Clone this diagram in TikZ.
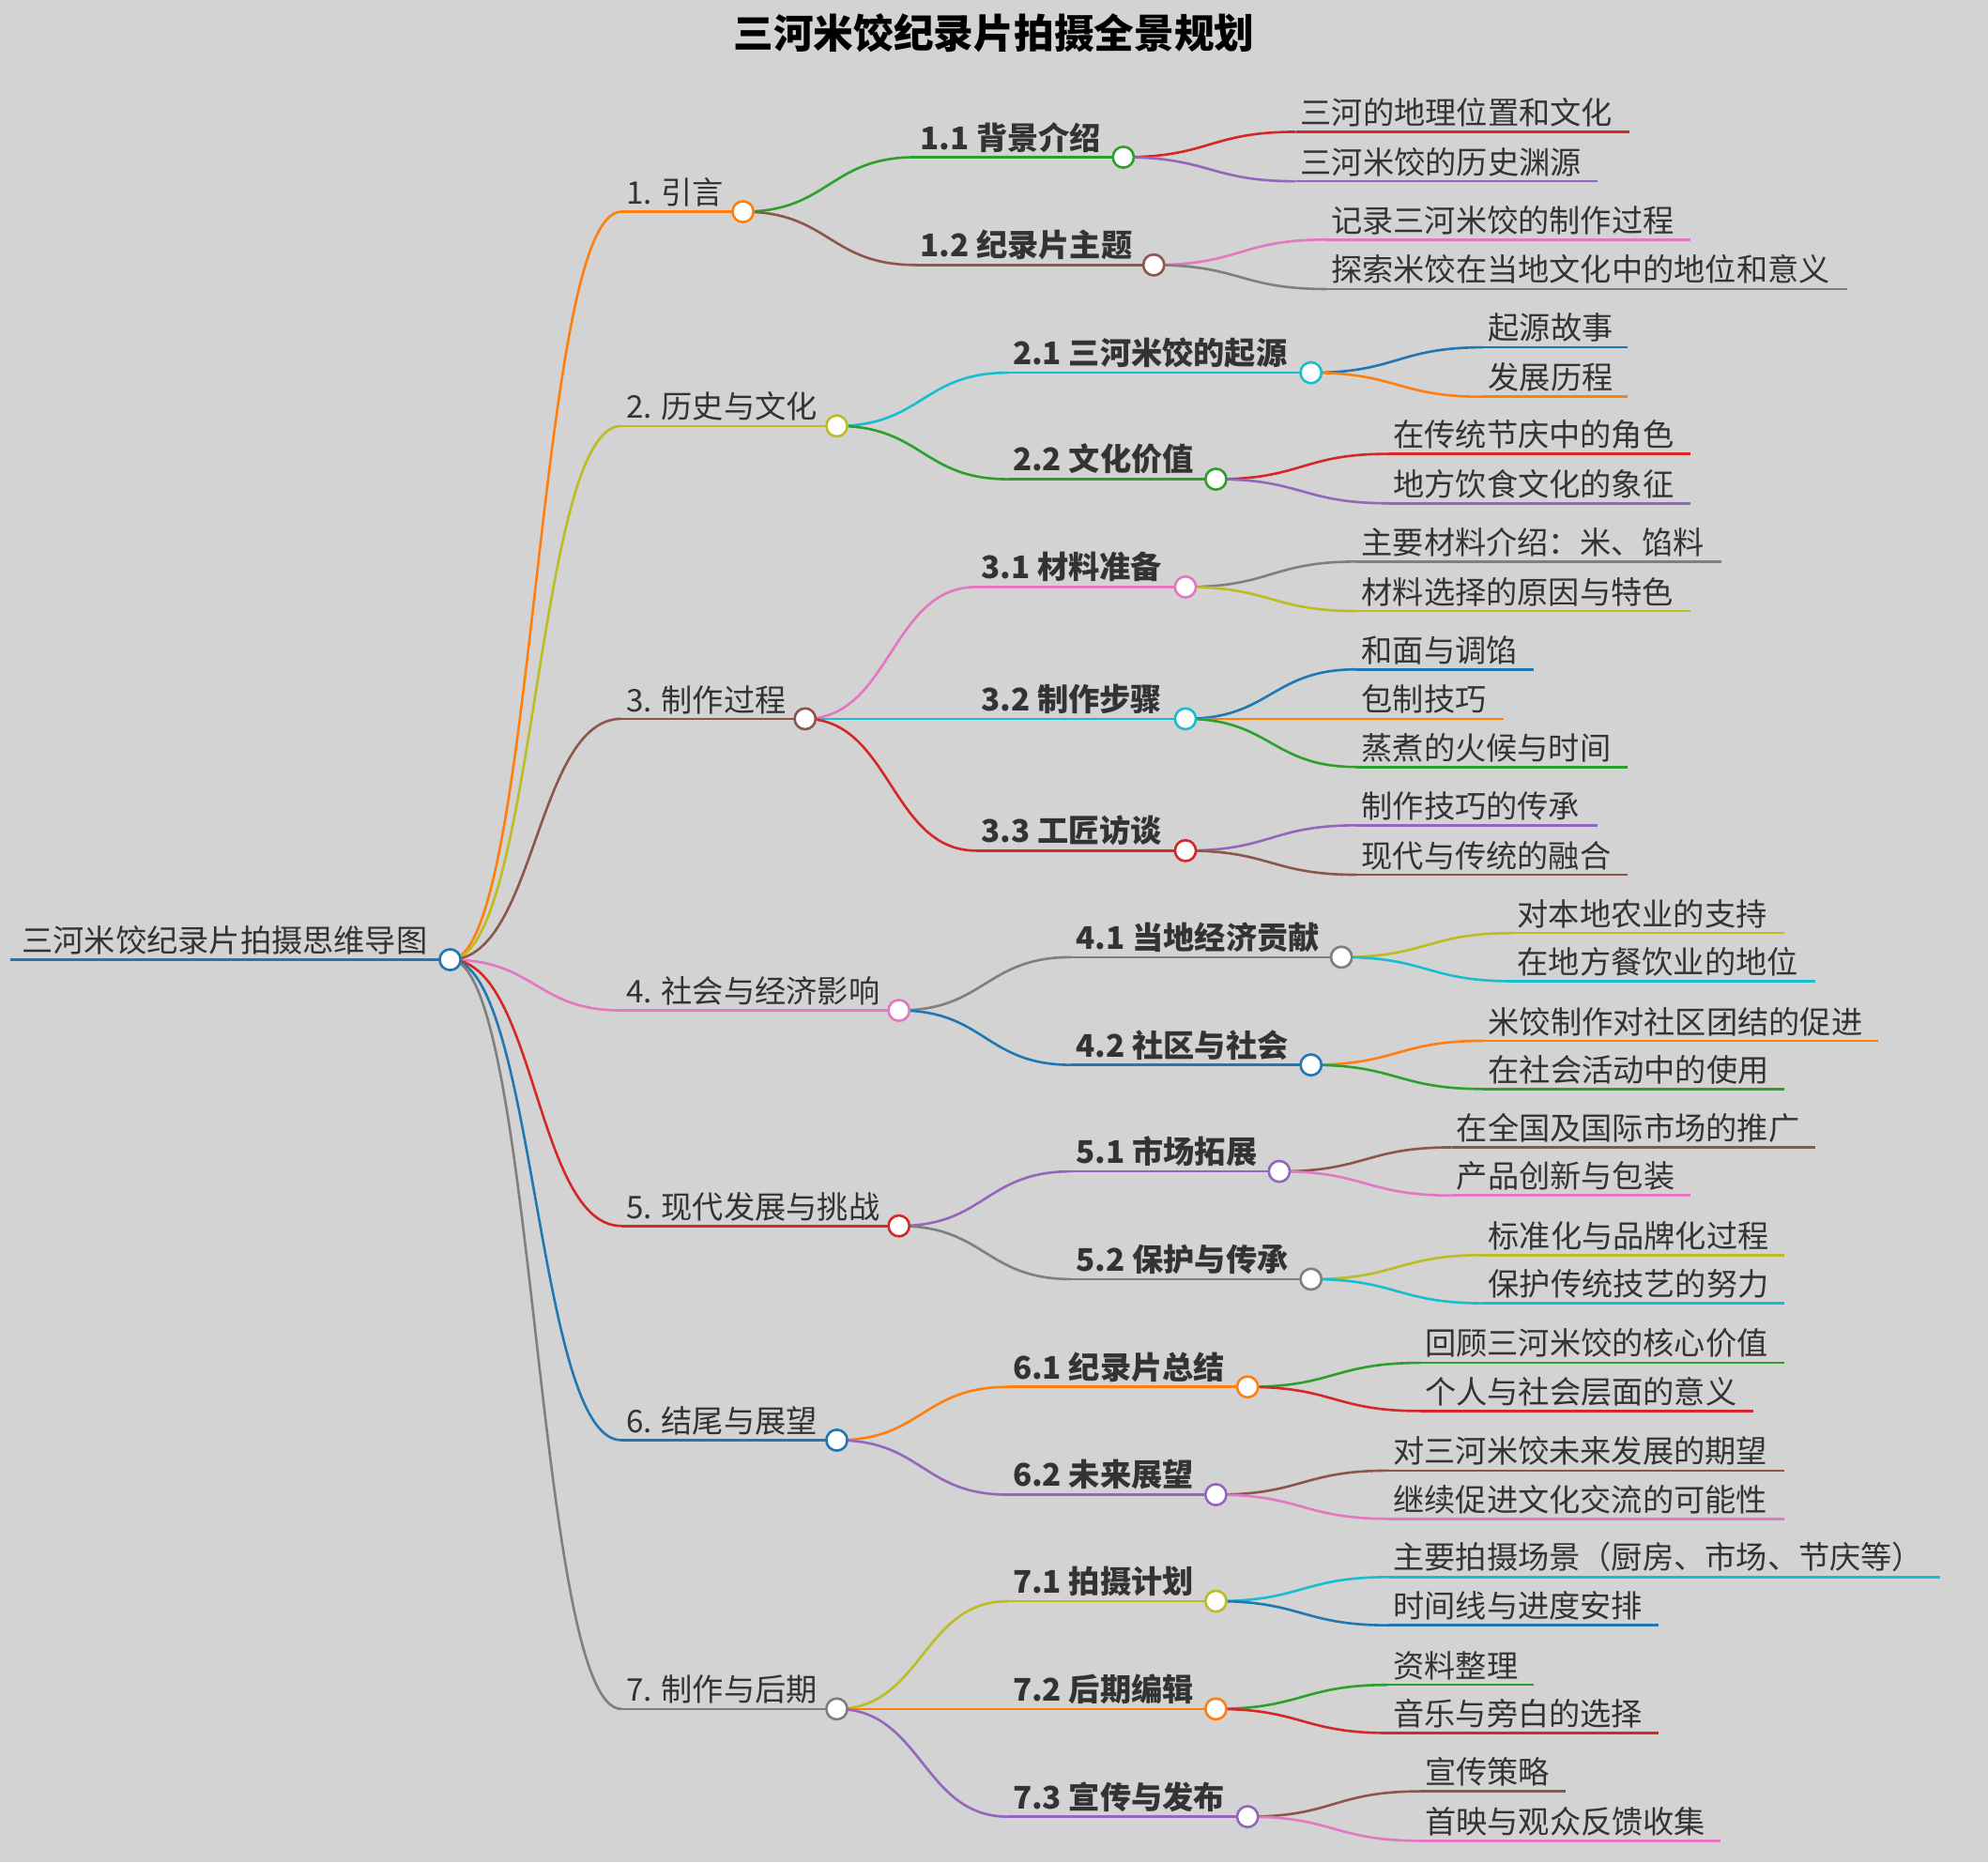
\documentclass[tikz,border=0pt]{standalone}
\usepackage{fontspec}
\setmainfont{Noto Sans CJK SC}
\usetikzlibrary{calc}
\definecolor{tblue}{HTML}{1F77B4}
\definecolor{torange}{HTML}{FF7F0E}
\definecolor{tgreen}{HTML}{2CA02C}
\definecolor{tred}{HTML}{D62728}
\definecolor{tpurple}{HTML}{9467BD}
\definecolor{tbrown}{HTML}{8C564B}
\definecolor{tpink}{HTML}{E377C2}
\definecolor{tgray}{HTML}{7F7F7F}
\definecolor{tolive}{HTML}{BCBD22}
\definecolor{tcyan}{HTML}{17BECF}
\definecolor{bg}{HTML}{D3D3D3}
\definecolor{ink}{HTML}{333333}
% topic: name, start x, end x, y, colour, font, text
\newcommand\topic[7]{%
  \coordinate (#1s) at (#2,#4);
  \coordinate (#1) at (#3,#4);
  \draw[#5,line width=1.1pt] (#1s) -- (#1);
  \node[anchor=south west,inner sep=2pt,text=ink,font=#6] (#1t) at (#1s) {#7};}
\newcommand\link[3]{%
  \path ($(#1)!.5!(#2s)$) coordinate (mid);
  \draw[#3,line width=1.1pt] (#1) .. controls (mid |- #1) and (mid |- #2s) .. (#2s);}
\tikzset{dot/.style={circle,draw=#1,fill=white,line width=1.1pt,minimum size=0.33cm,inner sep=0pt}}
\newcommand\lvone{\fontsize{14}{14}\selectfont}
\newcommand\lvtwo{\fontsize{14}{14}\selectfont\bfseries}
\newcommand\leaf{\fontsize{14}{14}\selectfont}
\begin{document}
\begin{tikzpicture}[x=0.02cm,y=-0.02cm]
\fill[bg] (0,0) rectangle (1568,1469);
\node[font=\fontsize{18}{18}\selectfont\bfseries] (title) at (784,26) {三河米饺纪录片拍摄全景规划};
\topic{root}{8}{355}{757}{tblue}{\leaf}{\ 三河米饺纪录片拍摄思维导图}
% 1
\topic{a}{490}{586}{167}{torange}{\lvone}{1. 引言}
\topic{a1}{722}{886}{124}{tgreen}{\lvtwo}{1.1 背景介绍}
\topic{a1x}{1022}{1285}{104}{tred}{\leaf}{三河的地理位置和文化}
\topic{a1y}{1022}{1260}{143}{tpurple}{\leaf}{三河米饺的历史渊源}
\topic{a2}{722}{910}{209}{tbrown}{\lvtwo}{1.2 纪录片主题}
\topic{a2x}{1046}{1333}{189}{tpink}{\leaf}{记录三河米饺的制作过程}
\topic{a2y}{1046}{1457}{228}{tgray}{\leaf}{探索米饺在当地文化中的地位和意义}
% 2
\topic{b}{490}{660}{336}{tolive}{\lvone}{2. 历史与文化}
\topic{b1}{795}{1034}{294}{tcyan}{\lvtwo}{2.1 三河米饺的起源}
\topic{b1x}{1170}{1284}{274}{tblue}{\leaf}{起源故事}
\topic{b1y}{1170}{1284}{313}{torange}{\leaf}{发展历程}
\topic{b2}{795}{959}{378}{tgreen}{\lvtwo}{2.2 文化价值}
\topic{b2x}{1095}{1333}{358}{tred}{\leaf}{在传统节庆中的角色}
\topic{b2y}{1095}{1333}{397}{tpurple}{\leaf}{地方饮食文化的象征}
% 3
\topic{c}{490}{635}{567}{tbrown}{\lvone}{3. 制作过程}
\topic{c1}{770}{935}{463}{tpink}{\lvtwo}{3.1 材料准备}
\topic{c1x}{1070}{1358}{443}{tgray}{\leaf}{主要材料介绍：米、馅料}
\topic{c1y}{1070}{1333}{482}{tolive}{\leaf}{材料选择的原因与特色}
\topic{c2}{770}{935}{567}{tcyan}{\lvtwo}{3.2 制作步骤}
\topic{c2x}{1070}{1210}{528}{tblue}{\leaf}{和面与调馅}
\topic{c2y}{1070}{1186}{567}{torange}{\leaf}{包制技巧}
\topic{c2z}{1070}{1284}{605}{tgreen}{\leaf}{蒸煮的火候与时间}
\topic{c3}{770}{935}{671}{tred}{\lvtwo}{3.3 工匠访谈}
\topic{c3x}{1070}{1260}{651}{tpurple}{\leaf}{制作技巧的传承}
\topic{c3y}{1070}{1284}{690}{tbrown}{\leaf}{现代与传统的融合}
% 4
\topic{d}{490}{709}{797}{tpink}{\lvone}{4. 社会与经济影响}
\topic{d1}{845}{1058}{755}{tgray}{\lvtwo}{4.1 当地经济贡献}
\topic{d1x}{1193}{1407}{736}{tolive}{\leaf}{对本地农业的支持}
\topic{d1y}{1193}{1432}{774}{tcyan}{\leaf}{在地方餐饮业的地位}
\topic{d2}{845}{1034}{840}{tblue}{\lvtwo}{4.2 社区与社会}
\topic{d2x}{1170}{1481}{821}{torange}{\leaf}{米饺制作对社区团结的促进}
\topic{d2y}{1170}{1407}{859}{tgreen}{\leaf}{在社会活动中的使用}
% 5
\topic{e}{490}{709}{967}{tred}{\lvone}{5. 现代发展与挑战}
\topic{e1}{845}{1009}{924}{tpurple}{\lvtwo}{5.1 市场拓展}
\topic{e1x}{1145}{1432}{905}{tbrown}{\leaf}{在全国及国际市场的推广}
\topic{e1y}{1145}{1333}{943}{tpink}{\leaf}{产品创新与包装}
\topic{e2}{845}{1034}{1009}{tgray}{\lvtwo}{5.2 保护与传承}
\topic{e2x}{1170}{1407}{990}{tolive}{\leaf}{标准化与品牌化过程}
\topic{e2y}{1170}{1407}{1028}{tcyan}{\leaf}{保护传统技艺的努力}
% 6
\topic{f}{490}{660}{1136}{tblue}{\lvone}{6. 结尾与展望}
\topic{f1}{795}{984}{1094}{torange}{\lvtwo}{6.1 纪录片总结}
\topic{f1x}{1120}{1407}{1075}{tgreen}{\leaf}{回顾三河米饺的核心价值}
\topic{f1y}{1120}{1383}{1113}{tred}{\leaf}{个人与社会层面的意义}
\topic{f2}{795}{959}{1179}{tpurple}{\lvtwo}{6.2 未来展望}
\topic{f2x}{1095}{1407}{1160}{tbrown}{\leaf}{对三河米饺未来发展的期望}
\topic{f2y}{1095}{1407}{1198}{tpink}{\leaf}{继续促进文化交流的可能性}
% 7
\topic{g}{490}{660}{1348}{tgray}{\lvone}{7. 制作与后期}
\topic{g1}{795}{959}{1263}{tolive}{\lvtwo}{7.1 拍摄计划}
\topic{g1x}{1095}{1530}{1244}{tcyan}{\leaf}{主要拍摄场景（厨房、市场、节庆等）}
\topic{g1y}{1095}{1308}{1282}{tblue}{\leaf}{时间线与进度安排}
\topic{g2}{795}{959}{1348}{torange}{\lvtwo}{7.2 后期编辑}
\topic{g2x}{1095}{1210}{1329}{tgreen}{\leaf}{资料整理}
\topic{g2y}{1095}{1308}{1367}{tred}{\leaf}{音乐与旁白的选择}
\topic{g3}{795}{984}{1433}{tpurple}{\lvtwo}{7.3 宣传与发布}
\topic{g3x}{1120}{1235}{1413}{tbrown}{\leaf}{宣传策略}
\topic{g3y}{1120}{1357}{1452}{tpink}{\leaf}{首映与观众反馈收集}
% connectors
\foreach \p/\q/\c in {root/a/torange,root/b/tolive,root/c/tbrown,root/d/tpink,
  root/e/tred,root/f/tblue,root/g/tgray,
  a/a1/tgreen,a/a2/tbrown,a1/a1x/tred,a1/a1y/tpurple,a2/a2x/tpink,a2/a2y/tgray,
  b/b1/tcyan,b/b2/tgreen,b1/b1x/tblue,b1/b1y/torange,b2/b2x/tred,b2/b2y/tpurple,
  c/c1/tpink,c/c2/tcyan,c/c3/tred,c1/c1x/tgray,c1/c1y/tolive,
  c2/c2x/tblue,c2/c2y/torange,c2/c2z/tgreen,c3/c3x/tpurple,c3/c3y/tbrown,
  d/d1/tgray,d/d2/tblue,d1/d1x/tolive,d1/d1y/tcyan,d2/d2x/torange,d2/d2y/tgreen,
  e/e1/tpurple,e/e2/tgray,e1/e1x/tbrown,e1/e1y/tpink,e2/e2x/tolive,e2/e2y/tcyan,
  f/f1/torange,f/f2/tpurple,f1/f1x/tgreen,f1/f1y/tred,f2/f2x/tbrown,f2/f2y/tpink,
  g/g1/tolive,g/g2/torange,g/g3/tpurple,g1/g1x/tcyan,g1/g1y/tblue,
  g2/g2x/tgreen,g2/g2y/tred,g3/g3x/tbrown,g3/g3y/tpink}
  {\link{\p}{\q}{\c}}
% knots
\foreach \n/\c in {root/tblue,a/torange,b/tolive,c/tbrown,d/tpink,e/tred,f/tblue,g/tgray,
  a1/tgreen,a2/tbrown,b1/tcyan,b2/tgreen,c1/tpink,c2/tcyan,c3/tred,d1/tgray,d2/tblue,
  e1/tpurple,e2/tgray,f1/torange,f2/tpurple,g1/tolive,g2/torange,g3/tpurple}
  {\node[dot=\c] at (\n) {};}
\end{tikzpicture}
\end{document}
